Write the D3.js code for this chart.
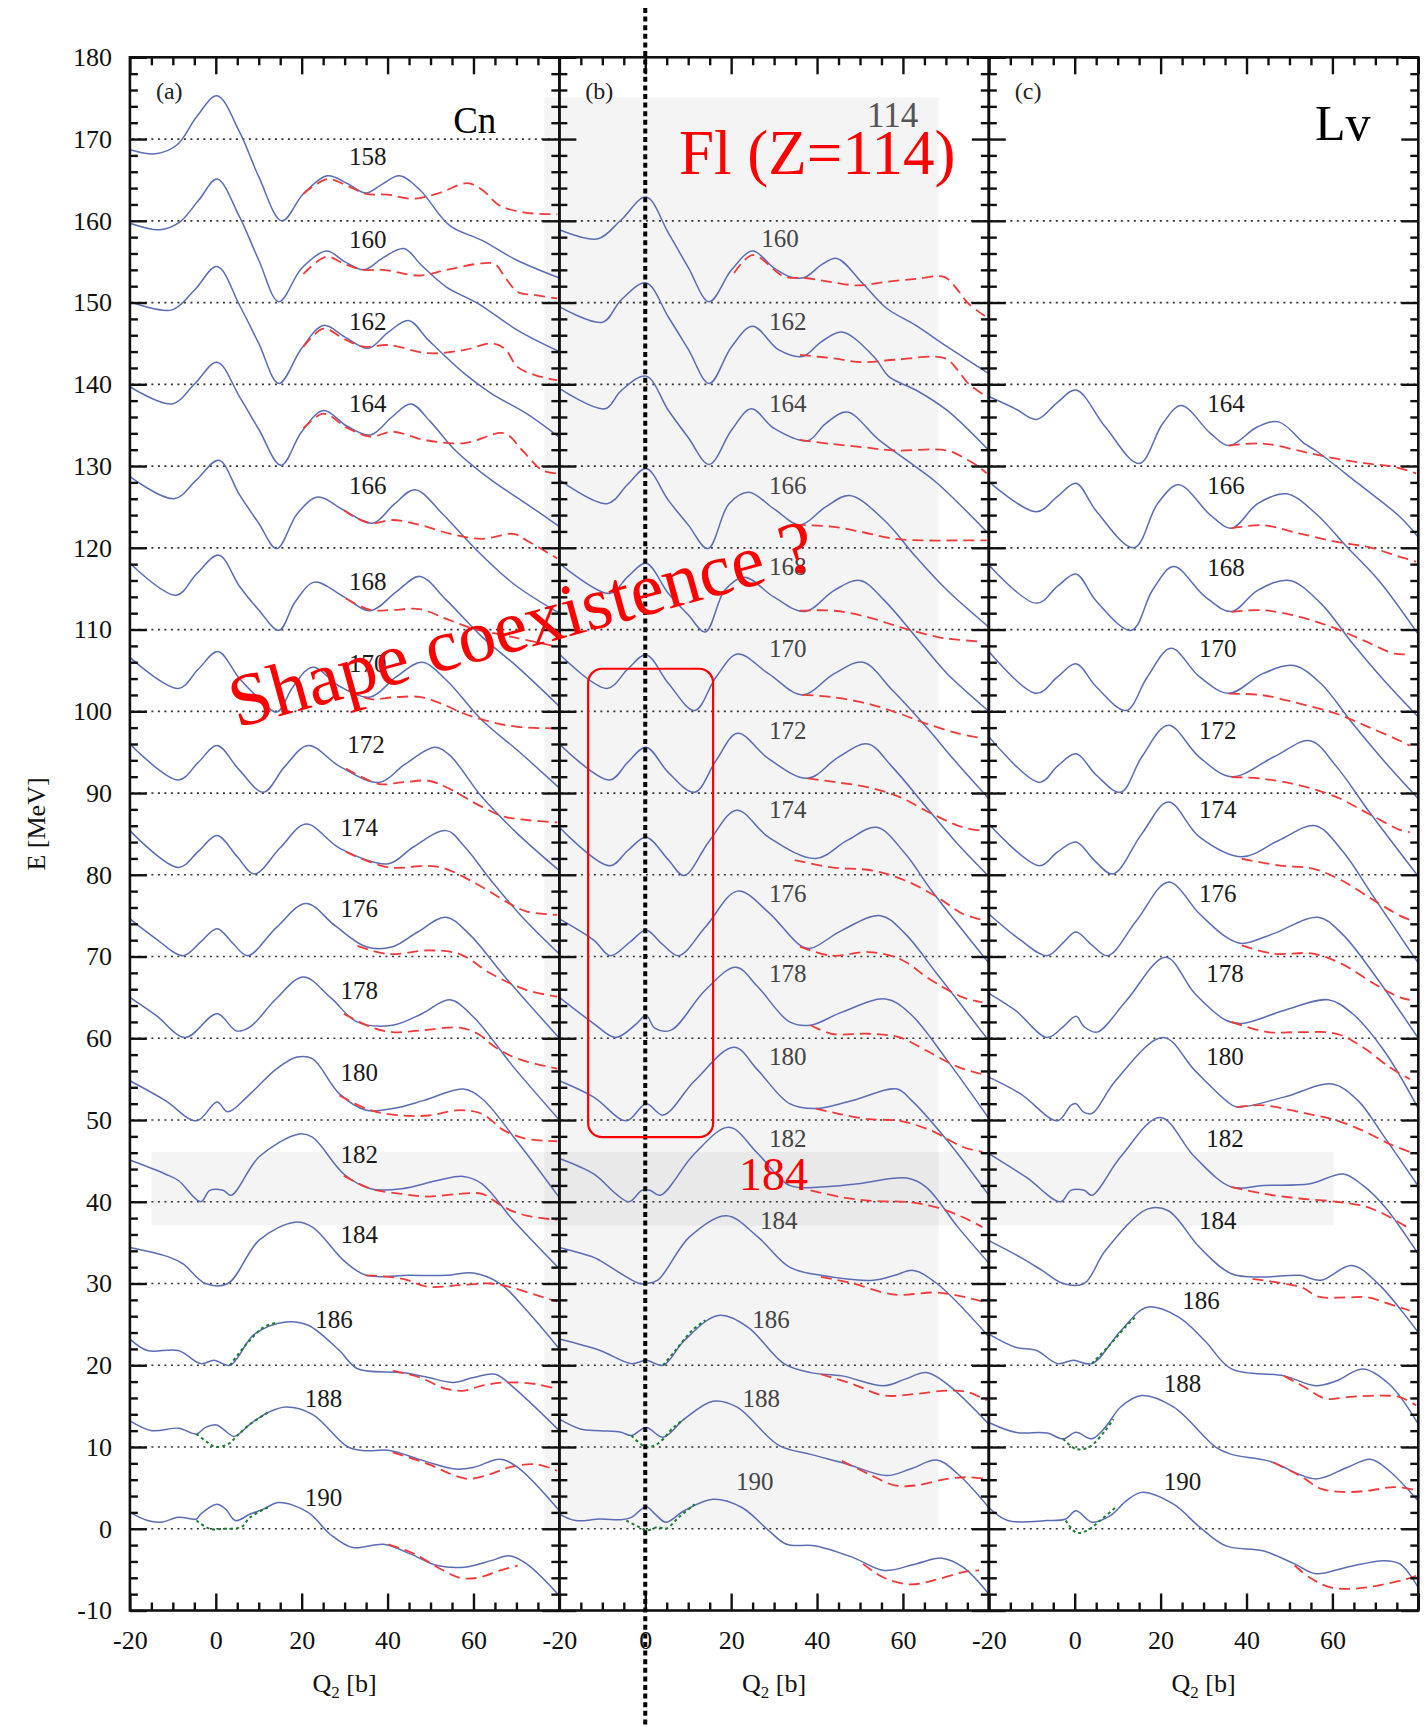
<!DOCTYPE html>
<html><head><meta charset="utf-8">
<script src="https://cdn.jsdelivr.net/npm/d3@7"></script>
<style>body{margin:0;background:#fff}svg{display:block}</style>
</head><body>
<svg id="c" width="1425" height="1727"></svg>
<script>
// ---------------- DATA ----------------
const yTickValues = d3.range(-10, 181, 10);
const xTickValues = [-20, 0, 20, 40, 60];
const panelNames = ["(a)", "(b)", "(c)"];
const elementNames = ["Cn", "", "Lv"];

// Each curve: [N, [[Q2 (b), E - baseline (MeV)], ...]]; baseline = 5*(190-N)
const cnBlue = [
 [158, [[-20,8.7],[-14,8.2],[-9,9.3],[-4.5,12.7],[0.3,15.3],[5.5,10.9],[10,5.4],[15.4,0],[20.4,3.3],[26,5.5],[30.5,4.6],[35,3.4],[38.5,4.4],[42.8,5.5],[47.5,3.8],[54.5,-0.6],[62,-2.4],[70,-4.8],[80,-7]]],
 [160, [[-20,9.7],[-13,8.9],[-8.5,9.8],[-4,12.5],[0.3,15.1],[5.5,10.5],[10,5.2],[14.7,0.1],[20,4.2],[25.8,6.3],[30,5],[34.5,4.0],[39,5.5],[43.8,6.6],[48,4.5],[53.7,1.9],[61,-0.1],[70.3,-3.4],[80,-6]]],
 [162, [[-20,10.1],[-10.2,9.1],[-5,11.5],[0.3,14.4],[5.5,9.7],[10,5],[14.7,0.1],[20,4.4],[25.1,7.2],[30,5.8],[35.5,4.4],[40,6.3],[44.9,7.8],[49.5,5.4],[57.9,1.3],[64.1,-1.1],[72.4,-3.6],[80,-6.5]]],
 [164, [[-20,9.7],[-10.2,7.6],[-5,10],[0.3,12.7],[5.5,8.5],[10,4.5],[15.2,0.1],[20,4.2],[25.1,6.8],[30.5,4.9],[36,3.8],[41,6],[45.4,7.6],[50,5.4],[55.8,1.9],[64.1,-1.7],[72,-4.5],[80,-7.4]]],
 [166, [[-20,8.7],[-9.7,6.0],[-4.5,8.3],[0.7,10.7],[5.5,6.5],[10,3],[14.2,-0.1],[19,4.2],[23.8,6.2],[29.8,4.6],[36.5,3.0],[41.5,5.3],[46.4,7.1],[52.7,4.2],[60,0.1],[69.3,-4.4],[80,-8]]],
 [168, [[-20,8.1],[-9.2,4.2],[-4.5,6.8],[0.7,9.1],[5.5,5.3],[10,2.4],[14.7,-0.1],[18.5,3.4],[23,5.8],[29.8,4.0],[36,2.3],[42,4.6],[47.5,6.5],[53.7,3.6],[62,-0.9],[70.3,-4.6],[80,-9.4]]],
 [170, [[-20,6.6],[-8.7,2.8],[-4,5.2],[0.5,7.3],[5.5,4],[10,1.6],[14.2,-0.1],[18,3],[22.5,5.4],[29,3],[36,1.75],[42,4.2],[48,6.0],[53.7,3.8],[62,-1.1],[70.3,-4.8],[80,-9.4]]],
 [172, [[-20,6.0],[-8.7,1.6],[-4,3.8],[0.3,5.8],[5.5,2.8],[11.1,0.1],[16,3.2],[21.5,5.8],[29,3.2],[38.1,1.3],[44,3.5],[51,5.6],[54.5,4.6],[62,-0.5],[70.3,-5],[80,-9.5]]],
 [174, [[-20,5.4],[-8.7,0.9],[-4,2.9],[0.3,4.8],[5,2.2],[9,0.1],[15,3.3],[21,6.2],[29,3.2],[40.2,1.35],[46,3.4],[53.7,5.4],[58,3.4],[64.1,-0.7],[71.4,-5.2],[80,-9.7]]],
 [176, [[-20,4.6],[-14,2.2],[-7.6,0.1],[-3.5,1.8],[0.3,3.4],[4,1.6],[7.4,0.1],[14.2,3.6],[21,6.5],[27.7,3.8],[35,1.2],[41.2,1.2],[47,3.0],[53.5,4.8],[58.9,2.8],[67.2,-2.4],[80,-10]]],
 [178, [[-20,5.0],[-13.9,2.8],[-7.1,0.1],[0.3,3.0],[4.8,0.9],[8,1.4],[14,4.8],[20.4,7.5],[26.7,5.0],[32.9,2.0],[41.2,1.6],[48,3.0],[54.5,4.7],[60,2.6],[69.3,-3.5],[80,-10]]],
 [180, [[-20,4.8],[-11.8,2.4],[-4.5,-0.1],[0.3,2.2],[2.8,1.0],[8,3.2],[14,6.2],[18.9,7.7],[22.5,7.5],[28.8,3.2],[35,1.2],[41.2,1.4],[48.5,2.4],[57.6,3.8],[62,2.6],[70,-2.5],[80,-9.5]]],
 [182, [[-20,5.1],[-11.8,3.4],[-8.7,2.6],[-3.5,0],[-1.4,1.4],[1.7,1.4],[3.6,0.8],[10.1,5.5],[19.4,8.3],[22.5,7.9],[29.8,3.4],[36,1.6],[43.3,1.6],[51.6,2.6],[57.6,3.1],[62,2.2],[69.3,-2.3],[80,-8.2]]],
 [184, [[-20,4.4],[-10.7,3.2],[-7.6,2.4],[-2.4,0],[2.8,0],[10.1,5.3],[18.4,7.5],[22.5,6.9],[29.8,2.8],[35,1.0],[45,1.0],[53.7,1.0],[60,1.3],[66.2,0],[72.4,-3.3],[80,-8]]],
 [186, [[-20,3.2],[-15.9,1.8],[-8.7,1.8],[-3.5,0.2],[-0.4,0.6],[3.3,0],[9,3.8],[16.3,5.3],[21.5,4.9],[28.8,1.8],[32.9,-0.4],[43.3,-0.9],[49.5,-1.5],[55.3,-2.1],[60,-1.5],[65.1,-1.1],[69.3,-2.7],[80,-8]]],
 [188, [[-20,3.2],[-14.9,2.0],[-8.7,2.3],[-4.5,1.6],[-2.4,2.4],[0.2,2.7],[1.7,2.2],[4.3,1.3],[8,2.8],[12.1,4.2],[16.3,4.9],[22.5,4.0],[30.8,0],[35,-0.45],[40.2,-0.4],[48.5,-1.7],[55.8,-2.7],[60,-2.5],[66.2,-1.5],[70.3,-2.5],[80,-7.8]]],
 [190, [[-20,2.0],[-15.9,1.0],[-12.8,0.8],[-8.7,1.4],[-4.5,1.2],[-3.5,1.8],[0.2,3.0],[2.3,2.4],[4.6,1.0],[8,1.8],[11.1,2.4],[14.7,3.2],[21.5,2.0],[26.7,-0.7],[31.9,-2.3],[39.1,-1.9],[45.4,-3.1],[51.6,-4.5],[57.9,-4.7],[64.1,-3.9],[68.3,-3.3],[72.4,-4.3],[80,-8.2]]]
];
const cnRed = [
 [158, [[20.4,3.3],[26,5.1],[30.5,4.3],[35,3.3],[40,3.2],[46,2.7],[52,3.4],[58.5,4.6],[62,3.8],[66,1.9],[72,1.0],[79.5,0.8]]],
 [160, [[20.4,3.5],[25.8,5.6],[30,4.7],[34.5,4.0],[39,4.0],[47.5,3.3],[53.7,4.0],[62,4.8],[65,4.7],[67.2,3.2],[70.3,1.3],[74.5,0.9],[79.5,0.5]]],
 [162, [[20.4,4.6],[25.1,6.8],[30,5.5],[34.5,4.6],[40.2,4.8],[49.5,3.8],[57.9,4.2],[64.1,5.0],[67.2,4.4],[70.3,2.1],[74.5,1.1],[79.5,0.5]]],
 [164, [[20.4,4.6],[25.1,6.4],[30.5,4.7],[36,3.6],[41.2,4.2],[48.5,3.2],[57.9,2.8],[67.2,4.0],[71.4,1.9],[76,-0.5],[79.5,-0.9]]],
 [166, [[29.8,4.6],[32.9,3.6],[36.5,3.0],[41.2,3.4],[47.5,2.8],[54.7,1.7],[62,1.1],[69.3,1.7],[72.4,0.9],[79.5,-1.3]]],
 [168, [[30.3,3.8],[36,2.4],[41.2,2.4],[47.5,2.5],[53.7,1.3],[60,0.1],[67.2,-0.7],[72.4,-1.3],[79.5,-2.1]]],
 [170, [[30.8,2.6],[36,1.5],[41.2,1.7],[47.5,1.75],[52.7,0.9],[57.9,-0.3],[64.1,-1.3],[70.3,-1.9],[79.5,-2.1]]],
 [172, [[30.3,3.0],[38.1,1.1],[43.3,1.3],[49.5,1.5],[53.7,0.7],[62,-1.7],[67.2,-2.9],[72.4,-3.3],[79.5,-3.6]]],
 [174, [[30.3,2.8],[40.2,0.9],[49.5,1.1],[53.7,0.7],[62,-1.5],[68.3,-3.5],[72.4,-4.5],[79.5,-4.9]]],
 [176, [[33,1.3],[40.2,0.3],[49.5,0.75],[56.8,0.3],[64.1,-2.1],[72.4,-4.1],[79.5,-4.9]]],
 [178, [[29.8,3.0],[36,1.4],[41.2,0.75],[48.5,1.0],[56.8,1.3],[61,0.55],[65.1,-1.1],[70.3,-2.5],[79.5,-3.7]]],
 [180, [[28.8,3.0],[36,1.2],[43.3,0.55],[49.5,0.55],[56.8,1.2],[62,0.75],[67.2,-1.3],[72.4,-2.3],[79.5,-2.6]]],
 [182, [[29.8,3.2],[36,1.6],[43.3,0.96],[49.5,0.64],[56.8,0.96],[62,0.96],[67.2,-0.7],[72.4,-1.7],[79.5,-2.2]]],
 [184, [[35,1.0],[43.3,0.6],[49.5,-0.4],[56.8,-0.2],[64.1,0],[68.3,-0.4],[74.5,-1.4],[79.5,-2.2]]],
 [186, [[41.2,-0.65],[47.5,-1.5],[53.7,-2.9],[57.9,-3.1],[62,-2.5],[67.2,-2.1],[74.5,-2.3],[79.5,-2.9]]],
 [188, [[41.2,-0.65],[49.5,-2.1],[54.7,-3.3],[58.9,-3.9],[64.1,-3.3],[68.3,-2.5],[74.5,-2.1],[79.5,-2.9]]],
 [190, [[40.2,-1.9],[46.4,-3.1],[51.6,-4.7],[56.8,-6.0],[61,-6.0],[66.2,-5.1],[70.3,-4.5]]]
];
const cnGreen = [
 [186, [[3.3,0],[7,2.5],[11,4.6],[14,5.2]]],
 [188, [[-4.5,1.6],[-2,0.6],[0,0],[3,0.4],[5,1.4],[8,2.8],[12.1,4.2]]],
 [190, [[-4.5,1.0],[-1.4,0],[2,0],[5.9,0.2],[8,1.4],[12.1,2.6]]]
];

const flBlue = [
 [160, [[-20,8.9],[-11,7.8],[-5.65,10.1],[0.2,12.9],[5.4,8.5],[10,4.3],[14.9,0.1],[20.1,4.0],[25,6.3],[30,4.2],[34,3.1],[37.2,3.1],[41,4.6],[44.6,5.4],[50.7,2.3],[56.2,-0.7],[63,-2.8],[70.3,-5.4],[80,-8.7]]],
 [162, [[-20,9.5],[-9.9,7.6],[-5.65,10.3],[0.2,12.4],[5.4,8.2],[10,4.3],[14.9,0.1],[20.1,4.6],[25,7.1],[31.1,4.2],[36.6,3.4],[41,5.2],[45.8,6.4],[53.2,3.4],[56.8,0.9],[63,-0.7],[70.3,-3.2],[80,-8.1]]],
 [164, [[-20,9.5],[-9.4,7.0],[-5.65,9.2],[0.2,11.0],[5.4,6.8],[10,3.5],[14.9,0.2],[20.1,4.4],[24.7,7.0],[30,4.6],[37.8,3.1],[42,5.2],[47,6.6],[54.4,3.2],[63,-0.1],[68,-2.1],[80,-8.3]]],
 [166, [[-20,8.3],[-8.9,5.4],[-4,7.8],[0.2,9.7],[5.4,5.8],[10,2.8],[14.6,-0.1],[19.5,5.4],[24.1,6.8],[29.9,4.8],[36,2.8],[42,5.0],[47.6,6.4],[55.6,3.4],[63,-1.1],[70.3,-5.2],[80,-9.7]]],
 [168, [[-20,8.1],[-8.3,4.4],[-4,6.5],[0.2,8.1],[5.4,4.4],[10,1.8],[14,-0.3],[18.5,4.8],[23.1,6.4],[29.9,4.0],[37.2,2.2],[44,4.8],[50,6.0],[55.6,3.6],[63,-0.9],[70.3,-5.4],[80,-10]]],
 [170, [[-20,7.0],[-8.9,2.8],[-4,5.2],[0.2,6.9],[5.4,3.4],[11.5,0.1],[16.5,4.2],[21.5,7.0],[28.7,4.6],[36.6,2.0],[44,4.6],[50.7,6.0],[57.5,2.6],[65.4,-1.9],[72,-6],[80,-10.7]]],
 [172, [[-20,6.0],[-8.3,1.6],[-4,3.8],[0.2,5.6],[5.4,2.5],[11.5,0.1],[16.5,4.0],[21.5,7.3],[28.7,4.2],[37.8,1.8],[45,4.4],[51.8,6.0],[57.5,3.2],[65.4,-1.7],[72,-5.8],[80,-10.2]]],
 [174, [[-20,5.8],[-8.3,1.1],[-4,3.0],[0.2,4.6],[5.4,1.8],[9.05,-0.1],[15,4.2],[21.3,7.9],[28.7,4.6],[39.7,2.0],[47,4.2],[53.9,5.8],[60.5,2.6],[66.6,-1.9],[80,-10.8]]],
 [176, [[-20,4.6],[-12,2.0],[-8.1,0.1],[-3.5,1.8],[0.2,3.2],[4,1.5],[7.8,0.1],[14,3.6],[21.5,8.0],[28.7,5.4],[36,1.4],[38.5,1.0],[45.8,3.2],[54.8,5.0],[60.5,2.8],[67.9,-2.1],[80,-10.3]]],
 [178, [[-20,5.0],[-12,1.8],[-6.9,0.1],[-2,1.8],[0.2,2.8],[2.3,1.2],[6,1.0],[14,5.9],[21.1,8.7],[26.2,6.3],[33.6,2.0],[38.5,1.6],[45.8,3.2],[56,4.8],[61.7,3.0],[70.3,-2.7],[80,-9.8]]],
 [180, [[-20,4.8],[-12,2.8],[-4.4,-0.1],[0.2,2.0],[4.15,0.6],[11.5,4.8],[20.7,8.9],[26.2,6.1],[33.6,2.0],[39.7,1.4],[48.3,2.4],[58.6,3.8],[62,2.4],[70.3,-2.5],[80,-9.2]]],
 [182, [[-20,5.3],[-12,3.4],[-6.9,1.0],[-3.8,0],[-0.75,1.4],[1.1,1.4],[3.5,0.8],[11.5,5.9],[19.5,9.1],[26.2,5.9],[33.6,2.0],[40.9,1.8],[49.5,2.2],[60.9,2.9],[65.4,1.8],[72.8,-3.1],[80,-7.5]]],
 [184, [[-20,4.4],[-12,3.2],[-10.5,2.8],[-1.4,0],[0.2,0],[2.9,0.4],[10.3,5.7],[18.9,8.3],[26.2,5.7],[33.6,2.0],[40.9,1.0],[53.2,0.4],[58.1,1.0],[62.4,1.6],[67.9,0],[80,-6.5]]],
 [186, [[-20,3.2],[-10.5,1.8],[-3.2,0.2],[0.2,0.6],[4.15,0],[9.05,3.0],[17,6.1],[23.8,4.7],[32.3,0.2],[38.5,-0.9],[45.8,-1.3],[55.6,-2.5],[60.5,-1.7],[65.4,-0.9],[70.3,-2.3],[80,-7.2]]],
 [188, [[-20,3.4],[-15.1,2.2],[-10.5,2.0],[-5.65,1.8],[-3.2,1.4],[0.2,2.4],[4.15,1.2],[9.05,3.4],[15.8,5.6],[21.3,4.9],[31.1,0.2],[38.5,-0.9],[47,-2.1],[56.2,-3.5],[61.7,-2.7],[67.9,-1.6],[72.8,-3.3],[80,-7.4]]],
 [190, [[-20,1.8],[-16.2,1.0],[-10.5,1.2],[-5.65,1.1],[-3.2,1.4],[0.2,2.7],[2.3,1.8],[4.8,0.8],[9.05,2.2],[15.8,3.6],[22.5,2.6],[28.7,-0.2],[32.9,-1.9],[39.7,-2.1],[48.3,-3.5],[55.6,-5.1],[63,-4.3],[69.1,-3.6],[74,-4.7],[80,-8.0]]]
];
const flRed = [
 [160, [[20.7,3.6],[25,5.8],[32.3,3.2],[37.2,3.0],[43.4,2.5],[49.5,2.1],[55.6,2.5],[63,2.9],[69.7,3.1],[72.8,1.5],[75.2,-0.1],[79.5,-1.8]]],
 [162, [[36,3.6],[43.4,3.2],[50.7,2.7],[58.1,3.0],[69.7,3.2],[72.8,1.7],[75.2,0.1],[79.5,-1.5]]],
 [164, [[36,3.2],[43.4,2.7],[50.7,2.3],[58.1,1.9],[70.3,1.9],[75.2,0.7],[77.7,-0.1],[79.5,-0.9]]],
 [166, [[34.8,2.8],[43.4,2.6],[50.7,1.9],[58.1,1.1],[65.4,0.9],[72.8,0.9],[79.5,0.9]]],
 [168, [[36,2.3],[44,2.3],[52,1.5],[59.3,0.3],[67.9,-0.9],[72,-1.2],[78.5,-1.5]]],
 [170, [[36.6,2.0],[43.4,1.75],[52,0.9],[59.3,-0.3],[65.4,-1.5],[72.8,-2.7],[78.5,-3.3]]],
 [172, [[37.8,1.8],[44.6,1.3],[52,0.7],[59.3,-0.5],[66.6,-2.5],[74,-4.2],[78.5,-4.6]]],
 [174, [[34.8,1.8],[43.4,0.9],[53.2,0.5],[60.5,-0.7],[67.9,-2.7],[74,-4.8],[78.5,-5.5]]],
 [176, [[36,1.2],[43.4,0.1],[52,0.55],[59.3,-0.3],[66.6,-2.9],[74,-5.0],[78.5,-5.6]]],
 [178, [[38.5,1.6],[43.4,0.55],[52,0.55],[59.3,0.1],[65.4,-1.5],[72.8,-3.5],[78.5,-4.4]]],
 [180, [[39.7,1.4],[45,0.76],[52,0.1],[59.3,-0.1],[66.6,-1.3],[74,-3.3],[78.5,-3.9]]],
 [182, [[38.5,1.4],[45.8,0.55],[53.2,0.1],[61.7,-0.05],[67.9,-0.7],[74,-1.9],[78.5,-3.1]]],
 [184, [[40.9,0.8],[47.7,0.1],[55.4,-1.1],[59.3,-1.4],[67,-1.1],[72,-1.4],[78.5,-2.2]]],
 [186, [[40.9,-1.1],[48.3,-2.3],[55.6,-3.7],[63,-3.5],[70.3,-3.1],[75.2,-3.3],[79.5,-4.3]]],
 [188, [[45.8,-1.7],[52,-3.3],[58.1,-4.7],[63,-4.7],[70.3,-3.9],[75.2,-3.7],[79.5,-3.9]]],
 [190, [[50.7,-4.3],[55.6,-6.0],[61.7,-6.8],[67.9,-6.2],[74,-5.3],[77.7,-5.1]]]
];
const flGreen = [
 [186, [[4.15,0],[7,1.8],[11,4.3],[14,5.5]]],
 [188, [[-3.2,1.4],[0.2,0],[2.9,0.4],[6.6,2.4],[9.05,3.4]]],
 [190, [[-4.4,1.0],[-1.4,0.2],[0.5,-0.2],[2.9,0.2],[4.8,0],[7.8,1.4],[11.5,3.0]]]
];

const lvBlue = [
 [164, [[-20,8.5],[-13.8,7.0],[-8.9,5.7],[-4,7.8],[0.3,9.3],[7.1,4.8],[15,0.3],[20.5,5.2],[24.8,7.4],[31.6,4.0],[35.9,2.5],[42.6,4.8],[47.5,5.4],[53.6,2.7],[56.1,1.9],[65.9,-2.1],[75.7,-6.2],[80,-8.7]]],
 [166, [[-20,8.1],[-8.9,4.4],[-4,6.3],[0.3,7.9],[5,4.5],[13.8,0],[19.3,5.4],[24.2,7.7],[31.6,4.0],[36.5,2.4],[42.6,5.4],[49.3,6.6],[56.1,4.2],[63.4,0.1],[70.8,-4.0],[80,-10.6]]],
 [168, [[-20,7.9],[-8.9,3.2],[-4,5.3],[0.3,6.8],[5,3.5],[13.2,-0.1],[18.1,4.8],[23,7.7],[30.4,4.0],[36.5,2.2],[42.6,4.8],[50,6.0],[57.3,3.2],[64.7,-1.7],[72,-6.2],[80,-10.7]]],
 [170, [[-20,7.3],[-8.9,2.2],[-4,4.2],[0.3,5.8],[5,3],[12,0.1],[16.9,4.2],[22.4,7.7],[29.1,4.2],[35.9,2.2],[43.8,4.6],[51,5.6],[57.3,3.4],[64.7,-1.5],[73.2,-6.8],[80,-10.7]]],
 [172, [[-20,6.9],[-8.2,1.3],[-4,3.3],[0.3,4.8],[5,2.2],[10.7,0.1],[15.6,4.4],[21.8,8.3],[29,4.4],[36.5,2.0],[46.3,4.4],[54.8,6.4],[61,3.2],[68.3,-2.1],[80,-10.2]]],
 [174, [[-20,6.2],[-8.2,1.1],[-4,2.8],[0.3,4.0],[4.5,1.8],[8.9,0.1],[15.6,5.0],[21.8,8.9],[29.1,4.6],[38.9,2.2],[47.5,4.2],[56,6.0],[62.2,3.0],[69.6,-2.7],[80,-10.8]]],
 [176, [[-20,5.2],[-12.6,2.0],[-6.4,0.1],[-2.5,1.8],[0.3,3.0],[4,1.4],[7.7,0.1],[14.4,4.4],[21.8,9.1],[29.1,5.2],[35.2,2.4],[38.9,1.6],[46.3,2.8],[56.7,4.8],[62.2,2.8],[69.6,-2.1],[80,-10]]],
 [178, [[-20,5.5],[-13.8,3.4],[-6.4,0.1],[-2.7,1.4],[0.3,2.7],[2.2,1.4],[5.2,0.75],[12,4.6],[21.2,9.9],[27.9,5.5],[35.2,2.2],[38.9,1.8],[48.7,3.4],[59,4.7],[64.7,3.0],[72,-1.5],[80,-8.6]]],
 [180, [[-20,5.25],[-12.6,3.2],[-4,-0.1],[-0.9,1.8],[0.3,2.0],[2,1.0],[4,0.8],[9.5,4.8],[20.6,10.1],[27.9,6.1],[35.2,2.4],[37.7,1.6],[48.7,2.8],[60,4.4],[65.9,2.4],[72,-2],[80,-8.1]]],
 [182, [[-20,5.9],[-11.3,3.0],[-3.3,0],[-0.9,1.4],[2.2,1.4],[4,0.8],[10.7,5.5],[19.9,10.3],[27.9,5.5],[36.5,1.8],[43.8,2.0],[54.8,2.2],[62.5,3.4],[67.1,2.0],[72,-0.5],[80,-6.4]]],
 [184, [[-20,5.25],[-12.6,3.2],[-7.6,1.6],[-2.7,0],[2.2,0],[7.1,4.0],[16.9,9.1],[21.8,8.9],[29.1,4.4],[36.5,1.2],[43.8,0.8],[52.4,1.0],[57.3,0.4],[64.5,2.2],[70.8,-0.1],[80,-6]]],
 [186, [[-20,3.8],[-13.8,2.2],[-8.9,1.8],[-4,0.2],[-0.3,0.6],[4,0.2],[10.7,4.2],[16.9,7.1],[24.2,5.9],[30.3,3.0],[36.5,-0.45],[48.7,-1.3],[56.1,-2.5],[61,-1.9],[67.1,-0.45],[73.2,-2.3],[80,-7.2]]],
 [188, [[-20,3.0],[-13.8,1.8],[-6.4,1.7],[-2.7,1.0],[0.3,1.8],[4,1.0],[7.1,2.4],[10.7,4.9],[15.6,6.3],[23,4.9],[32.8,0],[36.5,-0.9],[45.1,-1.7],[56.1,-3.9],[63.4,-2.5],[68.9,-1.5],[73.2,-2.9],[80,-6.6]]],
 [190, [[-20,2.6],[-15.6,1.0],[-6.4,1.0],[-2.1,1.2],[0.3,2.2],[4,0.8],[8.3,1.6],[12,3.4],[15.6,4.45],[23,3.0],[29.1,0.2],[35.2,-2.1],[43.8,-2.7],[51.2,-4.3],[56.1,-5.5],[63.4,-4.7],[72,-3.9],[75.7,-4.3],[80,-7.2]]]
];
const lvRed = [
 [164, [[35.9,2.5],[43.8,2.75],[53.6,1.7],[61,0.9],[68.3,0.3],[74.5,-0.1],[79.5,-0.9]]],
 [166, [[36.5,2.4],[43.8,2.76],[52.4,1.74],[61,0.72],[68.3,0.1],[75.7,-1.1],[79.5,-1.7]]],
 [168, [[36.5,2.15],[43.8,2.36],[52.4,1.54],[59.8,0.32],[67.1,-1.3],[74.5,-2.95],[78,-3.0]]],
 [170, [[35.9,2.16],[43.8,1.96],[52.4,0.93],[61,-0.3],[68.3,-1.9],[75.7,-3.6],[78,-4.2]]],
 [172, [[36.5,1.96],[43.8,1.75],[52.4,0.93],[61,-0.5],[68.3,-2.5],[75.7,-4.5],[78,-4.8]]],
 [174, [[38.9,1.96],[47.5,1.14],[55.5,0.74],[62.2,-0.7],[69.6,-3.1],[75.7,-5.0],[78,-5.5]]],
 [176, [[38.9,1.36],[46.3,0.35],[55.5,0.35],[62.2,-0.9],[69.6,-3.3],[75.7,-5.0],[78,-5.3]]],
 [178, [[36.5,2.0],[45,0.75],[52.4,0.75],[61,0.55],[67.1,-1.1],[73.2,-3.5],[78,-5.0]]],
 [180, [[37.7,1.57],[43.8,1.8],[52.4,0.96],[61,-0.06],[67.1,-1.3],[73.2,-2.9],[78,-3.9]]],
 [182, [[36.5,1.8],[43.8,1.0],[52.4,0.4],[61,0],[67.1,-0.5],[72,-1.5],[78,-3.3]]],
 [184, [[41.4,0.56],[48.7,0],[53,-0.5],[56.7,-1.6],[63.4,-1.7],[68.3,-1.7],[73.2,-2.5],[78,-3.3]]],
 [186, [[48.7,-1.3],[53.6,-2.7],[58.5,-4.1],[63.4,-3.9],[70.8,-3.7],[75.7,-3.9],[79.5,-4.9]]],
 [188, [[46.3,-1.9],[52.4,-3.5],[57.3,-5.1],[62.2,-5.5],[68.3,-5.35],[74.5,-4.9],[79.5,-5.3]]],
 [190, [[51.2,-4.5],[54.8,-6.0],[59.8,-7.2],[65.9,-7.3],[72,-6.8],[76.9,-6.2],[79.5,-5.75]]]
];
const lvGreen = [
 [186, [[4,0.2],[8,2.4],[12,4.8],[14,5.8]]],
 [188, [[-2.7,1.0],[0.3,-0.25],[3.4,0],[7.1,2.0],[9,3.4]]],
 [190, [[-2.1,1.0],[0.3,-0.45],[2.8,-0.25],[5.9,1.0],[9.5,2.6]]]
];

// Curve labels: [N, Q2 at label centre, label baseline relative to curve baseline]
const cnLabels = [[158,35.4,6.8],[160,35.4,6.65],[162,35.4,6.6],[164,35.4,6.6],[166,35.4,6.6],[168,35.4,4.8],[170,35.4,4.8],[172,35,4.9],[174,33.4,4.8],[176,33.4,4.8],[178,33.4,4.8],[180,33.4,4.8],[182,33.4,4.7],[184,33.4,4.9],[186,27.5,4.6],[188,25.1,4.85],[190,25.1,2.8]];
const flLabels = [[160,31.4,6.8],[162,33.2,6.6],[164,33.2,6.6],[166,33.2,6.6],[168,33.2,6.7],[170,33.2,6.7],[172,33.2,6.65],[174,33.2,6.9],[176,33.2,6.7],[178,33.2,6.9],[180,33.2,6.7],[182,33.2,6.7],[184,31.1,6.7],[186,29.3,4.6],[188,27,4.85],[190,25.5,4.7]];
const lvLabels = [[164,35.2,6.6],[166,35.2,6.6],[168,35.2,6.6],[170,33.3,6.7],[172,33.3,6.65],[174,33.3,6.9],[176,33.3,6.7],[178,35,6.9],[180,35,6.7],[182,35,6.7],[184,33.3,6.7],[186,29.4,6.9],[188,25.1,6.7],[190,25.1,4.7]];

// Reference energies of the dotted horizontal lines per panel (top value)
const gridTop = [170, 160, 160];

// ---------------- DRAWING ----------------
const FONT = "Liberation Serif";
const svg = d3.select('#c');
const W = 1425, H = 1727;
svg.append('rect').attr('width', W).attr('height', H).attr('fill', '#fff');

const y = d3.scaleLinear().domain([-10, 180]).range([1610.5, 57.3]);
const outer = d3.scaleLinear().domain([0, 3]).range([129.9, 1418.3]);
const panels = [
  {blue: cnBlue, red: cnRed, green: cnGreen, labels: cnLabels, lab: '#1a1a1a'},
  {blue: flBlue, red: flRed, green: flGreen, labels: flLabels, lab: '#444'},
  {blue: lvBlue, red: lvRed, green: lvGreen, labels: lvLabels, lab: '#1a1a1a'}
];
panels.forEach((p, i) => {
  p.x = d3.scaleLinear().domain([-20, 80]).range([outer(i), outer(i + 1)]);
});
const base = n => 5 * (190 - n);

// shaded regions
const xa = panels[0].x, xb = panels[1].x, xc = panels[2].x;
svg.append('rect')
  .attr('x', xa(76.5)).attr('y', y(175.1))
  .attr('width', xb(68.3) - xa(76.5)).attr('height', y(0) - y(175.1))
  .attr('fill', '#000').attr('fill-opacity', 0.043);
svg.append('rect')
  .attr('x', xa(-15)).attr('y', y(46.1))
  .attr('width', xc(60.3) - xa(-15)).attr('height', y(37.1) - y(46.1))
  .attr('fill', '#000').attr('fill-opacity', 0.043);

// dotted reference lines
panels.forEach((p, i) => {
  svg.append('g').selectAll('line').data(d3.range(0, gridTop[i] + 1, 10)).join('line')
    .attr('x1', p.x(-20) + 2).attr('x2', p.x(80) - 2)
    .attr('y1', d => y(d)).attr('y2', d => y(d))
    .attr('stroke', '#333').attr('stroke-width', 1.7)
    .attr('stroke-dasharray', '2,4.5');
});

// clip paths
const defs = svg.append('defs');
panels.forEach((p, i) => {
  defs.append('clipPath').attr('id', 'clip' + i).append('rect')
    .attr('x', p.x(-20)).attr('y', y(180)).attr('width', p.x(80) - p.x(-20)).attr('height', y(-10) - y(180));
});

// curves
panels.forEach((p, i) => {
  const g = svg.append('g').attr('clip-path', `url(#clip${i})`);
  const mk = n => d3.line().x(d => p.x(d[0])).y(d => y(base(n) + d[1])).curve(d3.curveCatmullRom.alpha(0.5));
  g.append('g').selectAll('path').data(p.blue).join('path')
    .attr('d', d => mk(d[0])(d[1]))
    .attr('fill', 'none').attr('stroke', '#5a6cb3').attr('stroke-width', 1.5);
  g.append('g').selectAll('path').data(p.red).join('path')
    .attr('d', d => mk(d[0])(d[1]))
    .attr('fill', 'none').attr('stroke', '#f03a3a').attr('stroke-width', 1.8)
    .attr('stroke-dasharray', '11,6');
  g.append('g').selectAll('path').data(p.green).join('path')
    .attr('d', d => mk(d[0])(d[1]))
    .attr('fill', 'none').attr('stroke', '#1d7a32').attr('stroke-width', 2)
    .attr('stroke-dasharray', '3,3');
  // curve labels
  g.append('g').selectAll('text').data(p.labels).join('text')
    .attr('x', d => p.x(d[1])).attr('y', d => y(base(d[0]) + d[2]))
    .attr('text-anchor', 'middle')
    .style('font-family', FONT).style('font-size', '25px').attr('fill', p.lab)
    .text(d => d[0]);
});

// frames and ticks
const minorY = d3.range(-10, 181, 2).filter(v => v % 10 !== 0);
const majorY = d3.range(-10, 181, 10);
const minorX = d3.range(-20, 81, 5).filter(v => v % 20 !== 0);
const majorX = [-20, 0, 20, 40, 60, 80];
function tickAxis(gen, scale, vals, size, tx, ty) {
  const g = svg.append('g').attr('transform', `translate(${tx},${ty})`)
    .call(gen(scale).tickValues(vals).tickSize(size).tickFormat(''));
  g.select('.domain').remove();
  g.selectAll('.tick line').attr('stroke', '#111').attr('stroke-width', 2.4);
}
panels.forEach((p, i) => {
  const L = p.x(-20), R = p.x(80);
  tickAxis(d3.axisRight, y, minorY, 8, L, 0);
  tickAxis(d3.axisRight, y, majorY, 17, L, 0);
  tickAxis(d3.axisLeft, y, minorY, 8, R, 0);
  tickAxis(d3.axisLeft, y, majorY, 17, R, 0);
  tickAxis(d3.axisBottom, p.x, minorX, 8, 0, y(180));
  tickAxis(d3.axisBottom, p.x, majorX, 17, 0, y(180));
  tickAxis(d3.axisTop, p.x, minorX, 8, 0, y(-10));
  tickAxis(d3.axisTop, p.x, majorX, 17, 0, y(-10));
  svg.append('rect').attr('x', L).attr('y', y(180)).attr('width', R - L).attr('height', y(-10) - y(180))
    .attr('fill', 'none').attr('stroke', '#111').attr('stroke-width', 2.6);

  // x tick labels
  const gx = svg.append('g').attr('transform', `translate(0,${y(-10)})`)
    .call(d3.axisBottom(p.x).tickValues(xTickValues).tickSize(0).tickPadding(20));
  gx.select('.domain').remove();
  gx.selectAll('text').style('font-family', FONT).style('font-size', '26px').attr('fill', '#111')
    .text(d => d < 0 ? '-' + Math.abs(d) : d);

  // x axis title
  const t = svg.append('text').attr('x', p.x(30)).attr('y', 1692)
    .attr('text-anchor', 'middle').style('font-family', FONT).style('font-size', '26px').attr('fill', '#111');
  t.append('tspan').text('Q');
  t.append('tspan').style('font-size', '17px').attr('dy', 6).text('2');
  t.append('tspan').attr('dy', -6).text(' [b]');

  // panel tags
  svg.append('text').attr('x', p.x(-20) + 26).attr('y', 99)
    .style('font-family', FONT).style('font-size', '24px').attr('fill', '#222').text(panelNames[i]);
});

// y tick labels
const gy = svg.append('g').attr('transform', `translate(${outer(0)},0)`)
  .call(d3.axisLeft(y).tickValues(yTickValues).tickSize(0).tickPadding(18));
gy.select('.domain').remove();
gy.selectAll('text').style('font-family', FONT).style('font-size', '26px').attr('fill', '#111')
  .text(d => d < 0 ? '-' + Math.abs(d) : d);

// y axis title
svg.append('text').attr('transform', 'translate(45,824) rotate(-90)')
  .attr('text-anchor', 'middle').style('font-family', FONT).style('font-size', '26px').attr('fill', '#111')
  .text('E [MeV]');

// element names
svg.append('text').attr('x', xa(60.3)).attr('y', 133).attr('text-anchor', 'middle')
  .style('font-family', FONT).style('font-size', '37px').attr('fill', '#000').text(elementNames[0]);
svg.append('text').attr('x', xc(62.4)).attr('y', 140).attr('text-anchor', 'middle')
  .style('font-family', FONT).style('font-size', '50px').attr('fill', '#000').text(elementNames[2]);
svg.append('text').attr('x', xb(57.6)).attr('y', 127).attr('text-anchor', 'middle')
  .style('font-family', FONT).style('font-size', '35px').attr('fill', '#555').text('114');

// annotations: vertical dotted line at Q2 = 0 of panel (b)
svg.append('line').attr('x1', xb(0)).attr('x2', xb(0)).attr('y1', 8).attr('y2', H)
  .attr('stroke', '#000').attr('stroke-width', 4).attr('stroke-dasharray', '5,3.6');

// red rounded box
svg.append('rect').attr('x', xb(-13.3)).attr('y', y(105.2))
  .attr('width', xb(15.8) - xb(-13.3)).attr('height', y(47.9) - y(105.2))
  .attr('rx', 14).attr('ry', 14)
  .attr('fill', 'none').attr('stroke', '#f00').attr('stroke-width', 2.2);

svg.append('text').attr('x', 679).attr('y', 174)
  .style('font-family', FONT).style('font-size', '63px').attr('fill', '#f00').text('Fl (Z=114)');
svg.append('text').attr('x', 739).attr('y', 1190)
  .style('font-family', FONT).style('font-size', '46px').attr('fill', '#f00').text('184');
svg.append('text').attr('transform', 'translate(237,728) rotate(-15.4)')
  .style('font-family', FONT).style('font-size', '75px').attr('fill', '#f00').text('Shape coexistence ?');
</script>
</body></html>
